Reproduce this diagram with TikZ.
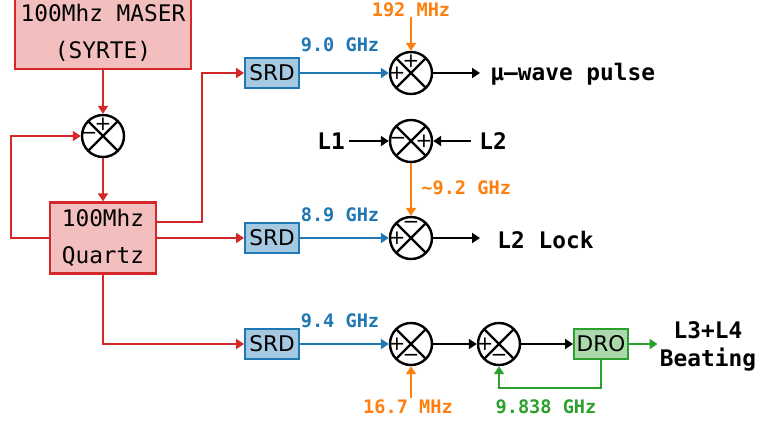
\documentclass[tikz,border=0pt]{standalone}
\usepackage{fontspec}
\setmonofont{DejaVu Sans Mono}
\setsansfont{DejaVu Sans}
\usetikzlibrary{arrows.meta}
\definecolor{tabred}{HTML}{D62728}
\definecolor{tabblue}{HTML}{1F77B4}
\definecolor{taborange}{HTML}{FF7F0E}
\definecolor{tabgreen}{HTML}{2CA02C}

\begin{document}
\begin{tikzpicture}[x=0.5pt,y=-0.5pt,
    >={Triangle[length=4pt,width=5pt]},
    wire/.style={line width=1pt,->},
    srcbox/.style={draw=tabred,fill=tabred!30,line width=1.1pt,inner sep=0pt,align=center,
        font=\ttfamily\fontsize{11.4}{18.5}\selectfont},
    srdbox/.style={draw=tabblue,fill=tabblue!40,line width=1pt,inner sep=0pt,
        minimum width=27pt,minimum height=15pt,font=\sffamily\fontsize{10.8}{12}\selectfont},
    drobox/.style={srdbox,draw=tabgreen,fill=tabgreen!40},
    mixer/.style={circle,draw,line width=1.2pt,minimum size=21pt,inner sep=0pt,
        path picture={\draw[line width=1.2pt] (path picture bounding box.north west) -- (path picture bounding box.south east)
                      (path picture bounding box.north east) -- (path picture bounding box.south west);}},
    sign/.style={inner sep=0pt,font=\sffamily\fontsize{10}{11}\selectfont},
    outlbl/.style={inner sep=0pt,font=\ttfamily\bfseries\fontsize{11.4}{14}\selectfont,align=center},
    freqlbl/.style={inner sep=0pt,font=\ttfamily\bfseries\fontsize{9.3}{11}\selectfont},
]
    \useasboundingbox (0,0) rectangle (760,425);
    % reference chain ========================================
    \node[srcbox,minimum width=88pt,minimum height=36pt] (maser)  at (103,33)  {100Mhz MASER\\(SYRTE)};
    \node[mixer]                                           (pll)    at (103,136) {};
    \node[srcbox,minimum width=53pt,minimum height=35.5pt] (quartz) at (103,238) {100Mhz\\Quartz};
    \node[sign] at ([yshift=6pt]pll.center)  {+};
    \node[sign] at ([xshift=-7pt]pll.center) {−};
    \draw[wire,tabred] (maser) -- (pll);
    \draw[wire,tabred] (pll) -- (quartz);
    \draw[wire,tabred] (quartz.west) -- ++(-38,0) |- (pll.west);
    % SRDs ===================================================
    \node[srdbox] (srdone)   at (272,73)  {SRD};
    \node[srdbox] (srdtwo)   at (272,238) {SRD};
    \node[srdbox] (srdthree) at (272,344) {SRD};
    \draw[wire,tabred] ([yshift=8pt]quartz.east) -- ++(45,0) |- (srdone.west);
    \draw[wire,tabred] (quartz.east) -- (srdtwo.west);
    \draw[wire,tabred] (quartz.south) |- (srdthree.west);
    % microwave pulse ========================================
    \node[mixer]   (mixpulse) at (411,73)  {};
    \node[sign] at ([yshift=6pt]mixpulse.center)  {+};
    \node[sign] at ([xshift=-7pt]mixpulse.center) {+};
    \node[freqlbl,tabblue]   at (340,45) {9.0 GHz};
    \node[freqlbl,taborange] (fsix) at (411,10) {192 MHz};
    \node[outlbl,anchor=west] (pulse) at (490,74) {μ–wave pulse};
    \draw[wire,tabblue]   (srdone) -- (mixpulse);
    \draw[wire,taborange] (fsix) -- (mixpulse);
    \draw[wire] (mixpulse) -- ([xshift=-5pt]pulse.west |- mixpulse);
    % L2 lock ================================================
    \node[mixer]   (mixbeat) at (411,141) {};
    \node[sign] at ([xshift=-6.5pt]mixbeat.center) {−};
    \node[sign] at ([xshift=6.5pt]mixbeat.center)  {+};
    \node[outlbl] (lone) at (331,141) {L1};
    \node[outlbl] (ltwo) at (493,141) {L2};
    \draw[wire] ([xshift=2pt]lone.east |- mixbeat) -- (mixbeat);
    \draw[wire] ([xshift=-4pt]ltwo.west |- mixbeat) -- (mixbeat);
    \node[mixer]   (mixlock) at (411,238) {};
    \node[sign] at ([yshift=6.5pt]mixlock.center)  {−};
    \node[sign] at ([xshift=-7pt]mixlock.center) {+};
    \node[freqlbl,taborange,anchor=west] at (421,188) {\textasciitilde9.2 GHz};
    \node[freqlbl,tabblue] at (340,215) {8.9 GHz};
    \node[outlbl,anchor=west] (lock) at (497,240) {L2 Lock};
    \draw[wire,taborange] (mixbeat) -- (mixlock);
    \draw[wire,tabblue] (srdtwo) -- (mixlock);
    \draw[wire] (mixlock) -- ([xshift=-8.5pt]lock.west |- mixlock);
    % L3+L4 beating ==========================================
    \node[mixer]   (mixoffset) at (411,344) {};
    \node[mixer]   (mixdro)    at (499,344) {};
    \node[drobox]  (dro)       at (601,344) {DRO};
    \node[sign] at ([xshift=-7pt]mixoffset.center) {+};
    \node[sign] at ([yshift=-7pt]mixoffset.center) {−};
    \node[sign] at ([xshift=-7pt]mixdro.center)    {+};
    \node[sign] at ([yshift=-7pt]mixdro.center)    {−};
    \node[freqlbl,tabblue]   at (340,321) {9.4 GHz};
    \node[freqlbl,taborange] (fseven) at (408,407) {16.7 MHz};
    \node[freqlbl,tabgreen]  at (546,407) {9.838 GHz};
    \node[outlbl] (beating) at (708,346) {L3+L4\\Beating};
    \draw[wire,tabblue] (srdthree) -- (mixoffset);
    \draw[wire,taborange] ([yshift=1pt]fseven.north -| mixoffset) -- (mixoffset);
    \draw[wire] (mixoffset) -- (mixdro);
    \draw[wire] (mixdro) -- (dro);
    \draw[wire,tabgreen] (dro) -- ([xshift=-1pt]beating.west |- dro);
    \draw[wire,tabgreen] (dro.south) -- ++(0,28) -| (mixdro.south);
\end{tikzpicture}
\end{document}
